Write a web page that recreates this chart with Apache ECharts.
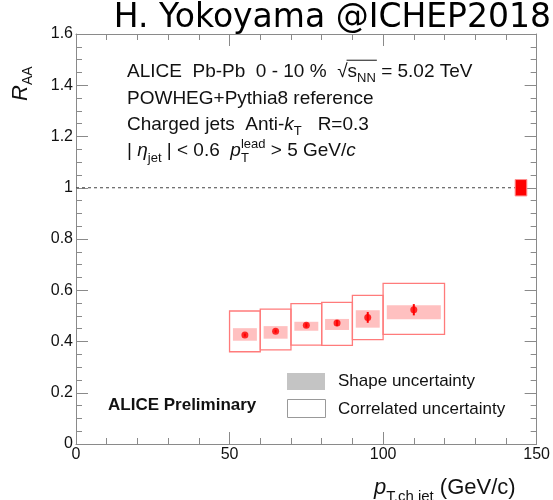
<!DOCTYPE html>
<html>
<head>
<meta charset="utf-8">
<script src="https://cdn.jsdelivr.net/npm/echarts@6/dist/echarts.min.js"></script>
<style>html,body{margin:0;padding:0;background:#fff}#c{width:553px;height:500px}</style>
</head>
<body>
<div id="c"></div>
<script>
// ---------- data ----------
const binLow  = [50, 60, 70, 80, 90, 100];
const binHigh = [60, 70, 80, 90, 100, 120];
const xCenter = [55, 65, 75, 85, 95, 110];
const raa     = [0.425, 0.440, 0.463, 0.472, 0.494, 0.524];
const statErr = [0.006, 0.006, 0.008, 0.012, 0.021, 0.022];
const shapeXLow  = [51.1, 61.1, 71.1, 81.1, 91.1, 101.2];
const shapeXHigh = [58.9, 68.9, 78.9, 88.9, 98.9, 118.8];
const shapeLow  = [0.403, 0.411, 0.442, 0.445, 0.454, 0.487];
const shapeHigh = [0.452, 0.460, 0.477, 0.488, 0.522, 0.541];
const corrLow   = [0.360, 0.367, 0.386, 0.385, 0.407, 0.428];
const corrHigh  = [0.519, 0.526, 0.548, 0.553, 0.580, 0.627];
const normX = [143.0, 146.8];
const normY = [0.968, 1.032];
const refLine = [[0, 1], [143.0, 1]];
const xTicks = [0, 50, 100, 150];
const yTicks = [0, 0.2, 0.4, 0.6, 0.8, 1, 1.2, 1.4, 1.6];

// ---------- text helpers ----------
const SANS = '"Liberation Sans", Arial, sans-serif';
const cv = document.createElement('canvas').getContext('2d');
function tw(t, s, it, b, fam) {
  cv.font = (it ? 'italic ' : 'normal ') + (b ? 'bold ' : 'normal ') + s + 'px ' + (fam || SANS);
  return cv.measureText(t).width;
}
function txt(t, x, y, s, it, b, fam, extra) {
  return Object.assign({
    type: 'text', x: x, y: y, silent: true,
    style: Object.assign({
      text: t, fontSize: s, fontStyle: it ? 'italic' : 'normal',
      fontWeight: b ? 'bold' : 'normal', fontFamily: fam || SANS,
      fill: '#111', align: 'left', verticalAlign: 'middle'
    }, extra || {})
  });
}
// segs: {t,s,i,b,dy,ol} or {stack:[...]}
function runs(segs, x0, y) {
  let x = x0; const els = []; let olStart = null, olEnd = null, olY = null;
  segs.forEach(sg => {
    if (sg.stack) {
      let w = 0;
      sg.stack.forEach(p => {
        els.push(txt(p.t, x, y + (p.dy || 0), p.s, p.i, p.b));
        w = Math.max(w, tw(p.t, p.s, p.i, p.b));
      });
      x += w;
    } else {
      const w = tw(sg.t, sg.s, sg.i, sg.b);
      els.push(txt(sg.t, x, y + (sg.dy || 0), sg.s, sg.i, sg.b));
      if (sg.ol) {
        if (olStart === null) { olStart = x; olY = y - sg.s * 0.62; }
        olEnd = x + w;
      }
      x += w;
    }
  });
  if (olStart !== null) {
    els.push({ type: 'line', silent: true,
      shape: { x1: olStart - 1, y1: olY, x2: olEnd + 1, y2: olY },
      style: { stroke: '#111', lineWidth: 1 } });
  }
  return els;
}

const F = 19, SUB = 13;
let graphics = [];
// title
graphics.push(txt('H. Yokoyama @ICHEP2018', 551, 18, 33, false, false, '"DejaVu Sans", sans-serif', { align: 'right', fill: '#000' }));
// info lines
graphics = graphics.concat(runs([
  { t: 'ALICE  Pb-Pb  0 - 10 %  ', s: F },
  { t: '\u221A', s: F },
  { t: 's', s: F, ol: true },
  { t: 'NN', s: SUB, dy: 6, ol: true },
  { t: ' = 5.02 TeV', s: F }
], 127, 72));
graphics = graphics.concat(runs([{ t: 'POWHEG+Pythia8 reference', s: F }], 127, 99));
graphics = graphics.concat(runs([
  { t: 'Charged jets  Anti-', s: F },
  { t: 'k', s: F, i: true },
  { t: 'T', s: SUB, dy: 6 },
  { t: '   R=0.3', s: F }
], 127, 125));
graphics = graphics.concat(runs([
  { t: '| ', s: F },
  { t: '\u03B7', s: F, i: true },
  { t: 'jet', s: SUB, dy: 7 },
  { t: ' | < 0.6  ', s: F },
  { t: 'p', s: F, i: true },
  { stack: [{ t: 'lead', s: SUB, dy: -7 }, { t: 'T', s: SUB, dy: 7 }] },
  { t: ' > 5 GeV/', s: F },
  { t: 'c', s: F, i: true }
], 127, 151));
// ALICE Preliminary
graphics.push(txt('ALICE Preliminary', 108, 405, 17, false, true));
// legend
graphics.push({ type: 'rect', silent: true, shape: { x: 287, y: 373, width: 38, height: 17 }, style: { fill: '#c4c4c4' } });
graphics.push({ type: 'rect', silent: true, shape: { x: 287.5, y: 399.5, width: 38, height: 18 }, style: { fill: 'none', stroke: '#999', lineWidth: 1 } });
graphics.push(txt('Shape uncertainty', 338, 381, 17));
graphics.push(txt('Correlated uncertainty', 338, 409, 17));
// y axis name (rotated)
graphics.push({ type: 'group', x: 21, y: 101, rotation: Math.PI / 2, silent: true,
  children: runs([{ t: 'R', s: 22, i: true }, { t: 'AA', s: 14, dy: 7 }], 0, 0) });
// x axis name
graphics = graphics.concat(runs([
  { t: 'p', s: 22, i: true },
  { t: 'T,ch jet', s: 15, dy: 9 },
  { t: ' (GeV/c)', s: 22 }
], 374, 488));

// ---------- chart ----------
const chart = echarts.init(document.getElementById('c'), null, { renderer: 'canvas' });
const AX = '#8a8a8a';
function xAx(pos, showLabel) {
  return {
    type: 'value', position: pos, min: xTicks[0], max: xTicks[xTicks.length - 1], interval: xTicks[1] - xTicks[0],
    axisLine: { show: true, onZero: false, lineStyle: { color: AX, width: 1 } },
    axisTick: { show: true, inside: true, length: 12, lineStyle: { color: AX } },
    minorTick: { show: true, splitNumber: 5, length: 6, lineStyle: { color: AX } },
    splitLine: { show: false }, minorSplitLine: { show: false },
    axisLabel: { show: showLabel, fontSize: 16, color: '#111', margin: 3, fontFamily: SANS }
  };
}
function yAx(pos, showLabel) {
  return {
    type: 'value', position: pos, min: yTicks[0], max: yTicks[yTicks.length - 1], interval: yTicks[1] - yTicks[0],
    axisLine: { show: true, onZero: false, lineStyle: { color: AX, width: 1 } },
    axisTick: { show: true, inside: true, length: 12, lineStyle: { color: AX } },
    minorTick: { show: true, splitNumber: 4, length: 6, lineStyle: { color: AX } },
    splitLine: { show: false }, minorSplitLine: { show: false },
    axisLabel: { show: showLabel, fontSize: 16, color: '#111', margin: 3, fontFamily: SANS,
      formatter: v => String(+v.toFixed(1)) }
  };
}
const idx = binLow.map((_, i) => i);
const corrData = idx.map(i => [binLow[i], binHigh[i], corrLow[i], corrHigh[i]]);
const shapeData = idx.map(i => [shapeXLow[i], shapeXHigh[i], shapeLow[i], shapeHigh[i]]);
const errData = idx.map(i => [xCenter[i], raa[i] - statErr[i], raa[i] + statErr[i]]);
const ptData = idx.map(i => [xCenter[i], raa[i]]);
const normData = [[normX[0], normX[1], normY[0], normY[1]]];

function boxRender(fill, stroke, lw) {
  return function (params, api) {
    const p1 = api.coord([api.value(0), api.value(2)]);
    const p2 = api.coord([api.value(1), api.value(3)]);
    return { type: 'rect',
      shape: { x: p1[0], y: p2[1], width: p2[0] - p1[0], height: p1[1] - p2[1] },
      style: { fill: fill, stroke: stroke, lineWidth: lw } };
  };
}

chart.setOption({
  animation: false,
  grid: { left: 76, right: 15, top: 34, bottom: 56, containLabel: false },
  xAxis: [xAx('bottom', true), xAx('top', false)],
  yAxis: [yAx('left', true), yAx('right', false)],
  graphic: graphics,
  series: [
    { type: 'line', data: refLine, showSymbol: false, symbol: 'none', silent: true,
      lineStyle: { color: '#444', width: 1, type: [3, 3] }, z: 1 },
    { type: 'custom', data: shapeData, encode: { x: [0, 1], y: [2, 3] },
      renderItem: boxRender('#ffc0c0', 'none', 0), silent: true, z: 2 },
    { type: 'custom', data: corrData, encode: { x: [0, 1], y: [2, 3] },
      renderItem: boxRender('none', '#ff7b7b', 1.3), silent: true, z: 3 },
    { type: 'custom', data: errData, encode: { x: 0, y: [1, 2] }, silent: true, z: 4,
      renderItem: function (params, api) {
        const a = api.coord([api.value(0), api.value(1)]);
        const b = api.coord([api.value(0), api.value(2)]);
        return { type: 'line', shape: { x1: a[0], y1: a[1], x2: b[0], y2: b[1] },
          style: { stroke: '#ff0000', lineWidth: 2 } };
      } },
    { type: 'scatter', data: ptData, symbol: 'circle', symbolSize: 7, silent: true,
      itemStyle: { color: '#ff0000' }, z: 5 },
    { type: 'custom', data: normData, encode: { x: [0, 1], y: [2, 3] },
      renderItem: boxRender('#ff0000', '#ff9090', 1), silent: true, z: 5 }
  ]
});
</script>
</body>
</html>
